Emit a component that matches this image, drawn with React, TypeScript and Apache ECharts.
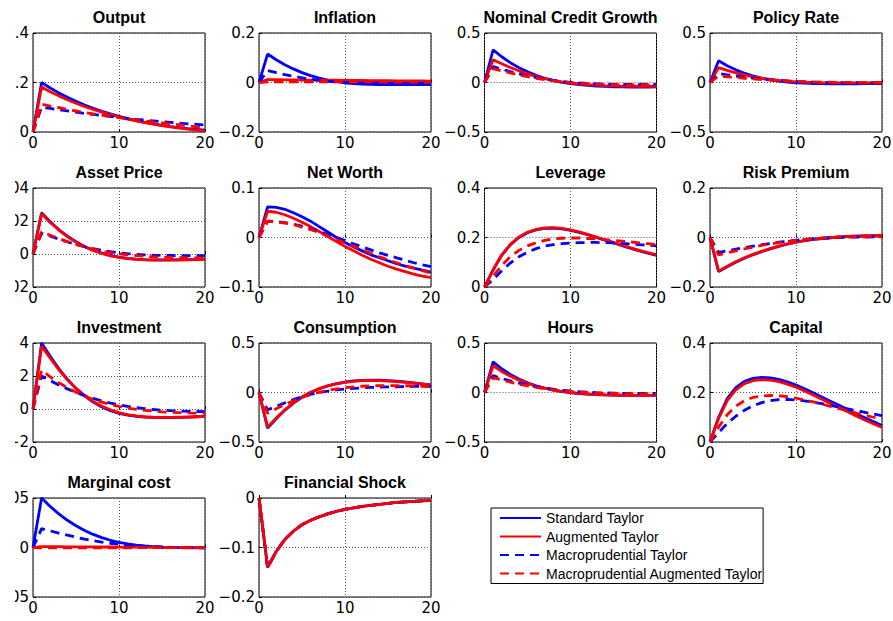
import React, { useEffect, useRef } from "react";
import * as echarts from "echarts";

// ---------- data ----------
const periods = [0, 1, 2, 3, 4, 5, 6, 7, 8, 9, 10, 11, 12, 13, 14, 15, 16, 17, 18, 19, 20];
const seriesNames = [
  "Standard Taylor",
  "Augmented Taylor",
  "Macroprudential Taylor",
  "Macroprudential Augmented Taylor",
];
const panelTitles = [
  "Output", "Inflation", "Nominal Credit Growth", "Policy Rate",
  "Asset Price", "Net Worth", "Leverage", "Risk Premium",
  "Investment", "Consumption", "Hours", "Capital",
  "Marginal cost", "Financial Shock",
];
const yMins = [0, -0.2, -0.5, -0.5, -0.02, -0.1, 0, -0.2, -2, -0.5, -0.5, 0, -0.05, -0.2];
const yMaxs = [0.4, 0.2, 0.5, 0.5, 0.04, 0.1, 0.4, 0.2, 4, 0.5, 0.5, 0.4, 0.05, 0];
const yIntervals = [0.2, 0.2, 0.5, 0.5, 0.02, 0.1, 0.2, 0.2, 2, 0.5, 0.5, 0.2, 0.05, 0.1];

const outputStd = [0, 0.200, 0.178, 0.158, 0.140, 0.124, 0.109, 0.096, 0.084, 0.073, 0.063, 0.054, 0.046, 0.039, 0.033, 0.027, 0.022, 0.018, 0.014, 0.011, 0.008];
const outputAug = [0, 0.182, 0.163, 0.146, 0.130, 0.116, 0.103, 0.091, 0.080, 0.070, 0.061, 0.052, 0.045, 0.038, 0.032, 0.026, 0.021, 0.016, 0.012, 0.008, 0.004];
const outputMacro = [0, 0.100, 0.095, 0.090, 0.085, 0.080, 0.075, 0.071, 0.067, 0.063, 0.059, 0.055, 0.051, 0.048, 0.045, 0.042, 0.039, 0.036, 0.033, 0.031, 0.028];
const outputMacroAug = [0, 0.112, 0.105, 0.098, 0.091, 0.085, 0.079, 0.073, 0.068, 0.063, 0.058, 0.053, 0.049, 0.045, 0.041, 0.037, 0.033, 0.029, 0.025, 0.021, 0.018];

const inflationStd = [0, 0.115, 0.092, 0.072, 0.055, 0.040, 0.028, 0.018, 0.010, 0.004, -0.001, -0.004, -0.006, -0.007, -0.008, -0.008, -0.008, -0.008, -0.008, -0.008, -0.008];
const inflationAug = [0, 0.012, 0.012, 0.011, 0.011, 0.010, 0.010, 0.010, 0.009, 0.009, 0.008, 0.008, 0.008, 0.007, 0.007, 0.007, 0.006, 0.006, 0.006, 0.006, 0.005];
const inflationMacro = [0, 0.048, 0.040, 0.032, 0.025, 0.019, 0.013, 0.009, 0.005, 0.002, 0.000, -0.002, -0.003, -0.003, -0.004, -0.004, -0.004, -0.004, -0.004, -0.004, -0.004];
const inflationMacroAug = [0, 0.003, 0.003, 0.003, 0.003, 0.003, 0.003, 0.003, 0.003, 0.003, 0.003, 0.003, 0.003, 0.003, 0.002, 0.002, 0.002, 0.002, 0.002, 0.002, 0.002];

const creditStd = [0, 0.330, 0.260, 0.200, 0.150, 0.108, 0.072, 0.043, 0.020, 0.002, -0.012, -0.022, -0.030, -0.036, -0.040, -0.043, -0.045, -0.046, -0.046, -0.046, -0.045];
const creditAug = [0, 0.230, 0.190, 0.152, 0.118, 0.088, 0.062, 0.040, 0.022, 0.007, -0.005, -0.014, -0.021, -0.027, -0.031, -0.034, -0.036, -0.037, -0.038, -0.038, -0.038];
const creditMacro = [0, 0.160, 0.135, 0.110, 0.088, 0.068, 0.050, 0.034, 0.021, 0.010, 0.002, -0.004, -0.009, -0.013, -0.016, -0.018, -0.019, -0.020, -0.020, -0.020, -0.020];
const creditMacroAug = [0, 0.140, 0.118, 0.097, 0.077, 0.059, 0.043, 0.029, 0.017, 0.007, -0.001, -0.007, -0.012, -0.016, -0.019, -0.021, -0.023, -0.024, -0.024, -0.024, -0.024];

const policyStd = [0, 0.220, 0.170, 0.128, 0.094, 0.066, 0.044, 0.027, 0.014, 0.004, -0.003, -0.007, -0.010, -0.012, -0.013, -0.013, -0.013, -0.013, -0.012, -0.012, -0.011];
const policyAug = [0, 0.150, 0.122, 0.097, 0.076, 0.058, 0.043, 0.031, 0.021, 0.013, 0.007, 0.003, 0.000, -0.002, -0.003, -0.004, -0.004, -0.004, -0.004, -0.004, -0.004];
const policyMacro = [0, 0.090, 0.078, 0.066, 0.055, 0.045, 0.036, 0.028, 0.021, 0.015, 0.010, 0.006, 0.003, 0.001, 0.000, -0.001, -0.002, -0.002, -0.002, -0.002, -0.002];
const policyMacroAug = [0, 0.065, 0.058, 0.050, 0.043, 0.036, 0.030, 0.024, 0.019, 0.015, 0.011, 0.008, 0.006, 0.004, 0.003, 0.002, 0.001, 0.001, 0.000, 0.000, 0.000];

const assetStd = [0, 0.0250, 0.0195, 0.0148, 0.0108, 0.0074, 0.0046, 0.0023, 0.0005, -0.0009, -0.0019, -0.0026, -0.0031, -0.0034, -0.0036, -0.0036, -0.0036, -0.0035, -0.0034, -0.0033, -0.0031];
const assetAug = [0, 0.0245, 0.0191, 0.0145, 0.0105, 0.0072, 0.0044, 0.0021, 0.0003, -0.0011, -0.0021, -0.0028, -0.0033, -0.0036, -0.0037, -0.0037, -0.0037, -0.0036, -0.0035, -0.0034, -0.0032];
const assetMacro = [0, 0.0125, 0.0108, 0.0090, 0.0073, 0.0058, 0.0044, 0.0032, 0.0022, 0.0014, 0.0007, 0.0002, -0.0002, -0.0005, -0.0007, -0.0008, -0.0009, -0.0010, -0.0010, -0.0010, -0.0010];
const assetMacroAug = [0, 0.0135, 0.0114, 0.0094, 0.0075, 0.0058, 0.0043, 0.0030, 0.0018, 0.0009, 0.0001, -0.0005, -0.0010, -0.0014, -0.0017, -0.0019, -0.0021, -0.0022, -0.0023, -0.0023, -0.0023];

const worthStd = [0, 0.062, 0.061, 0.057, 0.050, 0.042, 0.033, 0.022, 0.011, 0.000, -0.010, -0.019, -0.027, -0.035, -0.041, -0.047, -0.053, -0.058, -0.062, -0.066, -0.070];
const worthAug = [0, 0.053, 0.051, 0.046, 0.039, 0.031, 0.022, 0.012, 0.002, -0.008, -0.018, -0.027, -0.036, -0.044, -0.051, -0.058, -0.064, -0.069, -0.074, -0.078, -0.081];
const worthMacro = [0, 0.033, 0.032, 0.030, 0.027, 0.023, 0.018, 0.012, 0.006, 0.000, -0.006, -0.013, -0.019, -0.025, -0.031, -0.036, -0.041, -0.046, -0.051, -0.055, -0.059];
const worthMacroAug = [0, 0.033, 0.032, 0.029, 0.026, 0.021, 0.016, 0.010, 0.003, -0.004, -0.011, -0.018, -0.025, -0.032, -0.039, -0.045, -0.051, -0.057, -0.062, -0.067, -0.072];

const leverageStd = [0, 0.068, 0.128, 0.170, 0.200, 0.219, 0.231, 0.237, 0.238, 0.235, 0.229, 0.221, 0.211, 0.200, 0.189, 0.178, 0.167, 0.156, 0.146, 0.137, 0.128];
const leverageAug = [0, 0.070, 0.130, 0.172, 0.202, 0.221, 0.233, 0.239, 0.240, 0.237, 0.231, 0.223, 0.213, 0.202, 0.191, 0.180, 0.169, 0.158, 0.148, 0.139, 0.131];
const leverageMacro = [0, 0.030, 0.066, 0.097, 0.122, 0.141, 0.155, 0.165, 0.171, 0.175, 0.178, 0.179, 0.180, 0.180, 0.179, 0.178, 0.176, 0.174, 0.171, 0.169, 0.166];
const leverageMacroAug = [0, 0.042, 0.088, 0.122, 0.148, 0.166, 0.179, 0.188, 0.194, 0.197, 0.198, 0.198, 0.196, 0.194, 0.191, 0.188, 0.185, 0.182, 0.178, 0.175, 0.171];

const riskStd = [0, -0.138, -0.118, -0.100, -0.084, -0.070, -0.057, -0.046, -0.036, -0.027, -0.019, -0.013, -0.008, -0.004, -0.001, 0.002, 0.004, 0.005, 0.006, 0.007, 0.007];
const riskAug = [0, -0.136, -0.116, -0.098, -0.082, -0.068, -0.056, -0.045, -0.035, -0.026, -0.019, -0.013, -0.008, -0.004, -0.001, 0.002, 0.004, 0.005, 0.006, 0.007, 0.008];
const riskMacro = [0, -0.060, -0.054, -0.047, -0.041, -0.035, -0.029, -0.024, -0.019, -0.015, -0.011, -0.008, -0.005, -0.003, -0.001, 0.000, 0.001, 0.002, 0.002, 0.003, 0.003];
const riskMacroAug = [0, -0.070, -0.062, -0.054, -0.046, -0.039, -0.032, -0.026, -0.021, -0.016, -0.012, -0.008, -0.005, -0.003, -0.001, 0.001, 0.002, 0.003, 0.003, 0.004, 0.004];

const investStd = [0, 4.00, 3.20, 2.45, 1.80, 1.25, 0.80, 0.42, 0.12, -0.10, -0.26, -0.37, -0.44, -0.49, -0.51, -0.52, -0.52, -0.51, -0.49, -0.47, -0.45];
const investAug = [0, 3.80, 3.08, 2.38, 1.77, 1.25, 0.82, 0.46, 0.17, -0.05, -0.22, -0.34, -0.42, -0.47, -0.50, -0.51, -0.51, -0.50, -0.49, -0.47, -0.45];
const investMacro = [0, 2.00, 1.72, 1.46, 1.22, 1.00, 0.81, 0.64, 0.49, 0.36, 0.25, 0.16, 0.08, 0.02, -0.03, -0.07, -0.10, -0.12, -0.14, -0.15, -0.16];
const investMacroAug = [0, 2.35, 1.95, 1.60, 1.29, 1.02, 0.79, 0.59, 0.42, 0.28, 0.16, 0.06, -0.02, -0.08, -0.13, -0.17, -0.20, -0.22, -0.24, -0.25, -0.26];

const consStd = [0, -0.360, -0.265, -0.180, -0.108, -0.048, 0.000, 0.038, 0.067, 0.090, 0.106, 0.117, 0.123, 0.125, 0.124, 0.120, 0.114, 0.107, 0.098, 0.088, 0.078];
const consAug = [0, -0.350, -0.258, -0.175, -0.104, -0.045, 0.002, 0.039, 0.067, 0.088, 0.103, 0.113, 0.119, 0.121, 0.120, 0.116, 0.110, 0.103, 0.094, 0.085, 0.075];
const consMacro = [0, -0.175, -0.140, -0.105, -0.072, -0.043, -0.020, -0.001, 0.014, 0.026, 0.035, 0.042, 0.047, 0.051, 0.054, 0.056, 0.058, 0.060, 0.061, 0.062, 0.063];
const consMacroAug = [0, -0.210, -0.165, -0.122, -0.083, -0.049, -0.021, 0.002, 0.021, 0.036, 0.048, 0.057, 0.063, 0.067, 0.069, 0.070, 0.069, 0.068, 0.066, 0.063, 0.060];

const hoursStd = [0, 0.310, 0.240, 0.183, 0.136, 0.098, 0.068, 0.044, 0.025, 0.010, -0.002, -0.011, -0.017, -0.022, -0.025, -0.027, -0.028, -0.029, -0.029, -0.029, -0.029];
const hoursAug = [0, 0.270, 0.213, 0.165, 0.125, 0.092, 0.065, 0.043, 0.025, 0.011, 0.000, -0.009, -0.015, -0.020, -0.024, -0.026, -0.028, -0.029, -0.030, -0.030, -0.030];
const hoursMacro = [0, 0.170, 0.142, 0.117, 0.095, 0.076, 0.059, 0.045, 0.033, 0.023, 0.015, 0.008, 0.003, -0.001, -0.004, -0.006, -0.008, -0.009, -0.010, -0.010, -0.010];
const hoursMacroAug = [0, 0.150, 0.126, 0.104, 0.084, 0.067, 0.052, 0.039, 0.028, 0.019, 0.011, 0.005, 0.000, -0.004, -0.007, -0.009, -0.011, -0.012, -0.013, -0.013, -0.013];

const capitalStd = [0, 0.100, 0.175, 0.220, 0.245, 0.257, 0.261, 0.259, 0.253, 0.243, 0.230, 0.215, 0.199, 0.182, 0.165, 0.148, 0.131, 0.114, 0.098, 0.083, 0.067];
const capitalAug = [0, 0.095, 0.167, 0.211, 0.236, 0.248, 0.252, 0.250, 0.244, 0.234, 0.221, 0.206, 0.190, 0.173, 0.156, 0.139, 0.122, 0.105, 0.089, 0.074, 0.059];
const capitalMacro = [0, 0.038, 0.075, 0.104, 0.128, 0.146, 0.159, 0.167, 0.171, 0.172, 0.170, 0.166, 0.161, 0.155, 0.148, 0.141, 0.134, 0.127, 0.120, 0.113, 0.107];
const capitalMacroAug = [0, 0.060, 0.110, 0.145, 0.167, 0.180, 0.186, 0.188, 0.187, 0.183, 0.177, 0.170, 0.162, 0.153, 0.144, 0.135, 0.126, 0.117, 0.108, 0.100, 0.092];

const mcStd = [0, 0.0500, 0.0415, 0.0340, 0.0275, 0.0220, 0.0172, 0.0132, 0.0100, 0.0073, 0.0052, 0.0036, 0.0024, 0.0015, 0.0008, 0.0003, 0.0000, -0.0002, -0.0003, -0.0004, -0.0004];
const mcAug = [0, 0.0008, 0.0008, 0.0008, 0.0007, 0.0007, 0.0006, 0.0006, 0.0005, 0.0005, 0.0004, 0.0004, 0.0003, 0.0003, 0.0002, 0.0002, 0.0001, 0.0001, 0.0000, 0.0000, 0.0000];
const mcMacro = [0, 0.0190, 0.0168, 0.0145, 0.0124, 0.0104, 0.0085, 0.0069, 0.0055, 0.0043, 0.0033, 0.0025, 0.0018, 0.0012, 0.0008, 0.0005, 0.0002, 0.0000, -0.0001, -0.0002, -0.0003];
const mcMacroAug = [0, -0.0003, -0.0003, -0.0003, -0.0003, -0.0003, -0.0003, -0.0003, -0.0003, -0.0003, -0.0003, -0.0003, -0.0002, -0.0002, -0.0002, -0.0002, -0.0002, -0.0002, -0.0002, -0.0002, -0.0002];

const shockStd = [0, -0.140, -0.108, -0.084, -0.067, -0.054, -0.045, -0.038, -0.032, -0.027, -0.023, -0.020, -0.017, -0.015, -0.013, -0.011, -0.009, -0.008, -0.007, -0.006, -0.005];
const shockAug = [0, -0.140, -0.108, -0.084, -0.067, -0.054, -0.045, -0.038, -0.032, -0.027, -0.023, -0.020, -0.017, -0.015, -0.013, -0.011, -0.009, -0.008, -0.007, -0.006, -0.005];
const shockMacro = [0, -0.140, -0.108, -0.084, -0.067, -0.054, -0.045, -0.038, -0.032, -0.027, -0.023, -0.020, -0.017, -0.015, -0.013, -0.011, -0.009, -0.008, -0.007, -0.006, -0.005];
const shockMacroAug = [0, -0.140, -0.108, -0.084, -0.067, -0.054, -0.045, -0.038, -0.032, -0.027, -0.023, -0.020, -0.017, -0.015, -0.013, -0.011, -0.009, -0.008, -0.007, -0.006, -0.005];

const panelLines = [
  [outputStd, outputAug, outputMacro, outputMacroAug],
  [inflationStd, inflationAug, inflationMacro, inflationMacroAug],
  [creditStd, creditAug, creditMacro, creditMacroAug],
  [policyStd, policyAug, policyMacro, policyMacroAug],
  [assetStd, assetAug, assetMacro, assetMacroAug],
  [worthStd, worthAug, worthMacro, worthMacroAug],
  [leverageStd, leverageAug, leverageMacro, leverageMacroAug],
  [riskStd, riskAug, riskMacro, riskMacroAug],
  [investStd, investAug, investMacro, investMacroAug],
  [consStd, consAug, consMacro, consMacroAug],
  [hoursStd, hoursAug, hoursMacro, hoursMacroAug],
  [capitalStd, capitalAug, capitalMacro, capitalMacroAug],
  [mcStd, mcAug, mcMacro, mcMacroAug],
  [shockStd, shockAug, shockMacro, shockMacroAug],
];

// ---------- layout / style ----------
const COL_LEFT = [33, 259, 484.5, 710];
const ROW_TOP = [33, 188, 343, 498];
const PW = 172;
const PH = 99;
const LINE_COLORS = ["#0000ff", "#ff0000", "#0000ff", "#ff0000"];
const TICK_FONT = "DejaVu Sans";
const TITLE_FONT = "Liberation Sans";

function fmt(v: number) {
  const s = String(+Number(v).toFixed(4));
  return s.replace("-", "\u2212");
}

export default function App() {
  const ref = useRef<HTMLDivElement>(null);
  useEffect(() => {
    if (!ref.current) return;
    const chart = echarts.init(ref.current, null, { renderer: "svg" });
    const grids: any[] = [];
    const xAxes: any[] = [];
    const yAxes: any[] = [];
    const series: any[] = [];
    const graphics: any[] = [];
    panelTitles.forEach((title, i) => {
      const c = i % 4;
      const r = Math.floor(i / 4);
      grids.push({
        left: COL_LEFT[c], top: ROW_TOP[r], width: PW, height: PH,
        show: true, borderColor: "#000", borderWidth: 1, backgroundColor: "#fff",
        containLabel: false,
        outerBoundsMode: "none",
      });
      xAxes.push({
        gridIndex: i, type: "value", min: 0, max: 20, interval: 10,
        axisLine: { show: false },
        axisTick: { show: true, inside: true, length: 3, lineStyle: { color: "#000" } },
        axisLabel: { color: "#000", fontSize: 15, fontFamily: TICK_FONT, margin: 3 },
        splitLine: { show: true, lineStyle: { color: "#555", type: [1, 2], width: 1 } },
      });
      yAxes.push({
        gridIndex: i, type: "value", min: yMins[i], max: yMaxs[i], interval: yIntervals[i],
        axisLine: { show: false },
        axisTick: { show: true, inside: true, length: 3, lineStyle: { color: "#000" } },
        axisLabel: { color: "#000", fontSize: 15, fontFamily: TICK_FONT, margin: 4, formatter: fmt },
        splitLine: { show: true, lineStyle: { color: "#555", type: [1, 2], width: 1 } },
      });
      panelLines[i].forEach((vals, j) => {
        series.push({
          type: "line",
          name: seriesNames[j],
          xAxisIndex: i,
          yAxisIndex: i,
          data: periods.map((t, k) => [t, vals[k]]),
          symbol: "none",
          silent: true,
          z: 2 + j,
          itemStyle: { color: LINE_COLORS[j] },
          lineStyle: { color: LINE_COLORS[j], width: 2.8, type: j >= 2 ? [9, 6] : "solid" },
        });
      });
      graphics.push({
        type: "text",
        x: COL_LEFT[c] + PW / 2,
        y: ROW_TOP[r] - 24,
        style: {
          text: title, align: "center", verticalAlign: "top",
          font: `bold 16px "${TITLE_FONT}"`, fill: "#000",
        },
      });
    });
    graphics.push({
      type: "rect", z: 100,
      shape: { x: 0, y: 0, width: 15, height: 621 },
      style: { fill: "#fff" },
    });
    chart.setOption({
      animation: false,
      backgroundColor: "#fff",
      grid: grids,
      xAxis: xAxes,
      yAxis: yAxes,
      series,
      graphic: graphics,
      legend: {
        data: seriesNames,
        orient: "vertical",
        left: 491, top: 508,
        padding: [3, 0, 3, 8],
        itemGap: 4.5, itemWidth: 41, itemHeight: 14,
        borderColor: "#000", borderWidth: 1, borderRadius: 0,
        backgroundColor: "#fff",
        selectedMode: false,
        itemStyle: { color: "rgba(0,0,0,0)", borderColor: "rgba(0,0,0,0)", borderWidth: 0, opacity: 0 },
        lineStyle: { width: 2 },
        textStyle: { fontSize: 14, fontFamily: TITLE_FONT, color: "#000" },
      },
    });
    return () => chart.dispose();
  }, []);
  return <div ref={ref} style={{ position: "absolute", left: 0, top: 0, width: 893, height: 621 }} />;
}
